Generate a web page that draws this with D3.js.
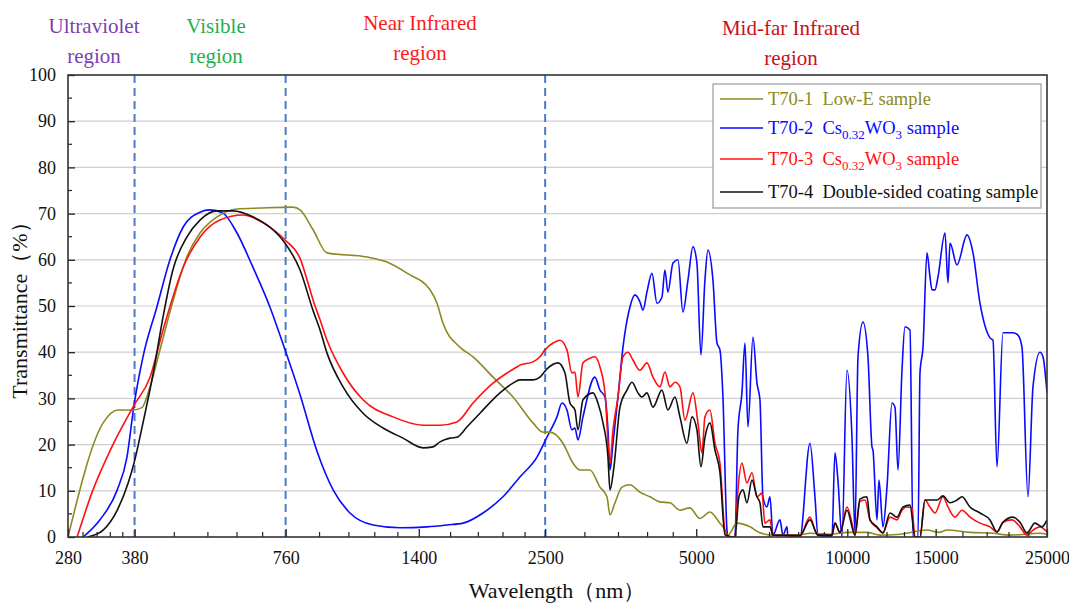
<!DOCTYPE html>
<html>
<head>
<meta charset="utf-8">
<script src="https://cdn.jsdelivr.net/npm/d3@7"></script>
<style>
  body { margin: 0; background: #fff; }
</style>
</head>
<body>
<svg id="chart" width="1069" height="603"></svg>
<script>
// ---- Spectral transmittance data (wavelength in nm, transmittance in %) ----
const lowE_nm = [280,329,352,377,393,408,427,453,483,513,555,608,676,786,812,862,919,1104,1210,1326,1474,1522,1564,1691,1796,1968,2157,2364,2475,2556,2713,2840,2933,3070,3215,3320,3366,3444,3556,3689,3862,4044,4233,4432,4640,4858,5086,5325,5575,5652,5783,6027,6398,6698,7110,8048,8426,9235,10032,10454,10945,11618,12735,14414,15229,15799,17558,19512,21095,24207,25000];
const lowE_T  = [0,24.7,27.5,27.5,28,32.5,40.5,51,60.6,65.8,69.3,71,71.2,71.4,70.8,66.5,61.5,60.6,59.5,57.1,53.5,50.6,46.3,41.1,39,34.6,30.3,24.7,22.7,22.7,20.3,16,14.5,14.5,10.8,8.7,4.8,7.4,10.8,11.3,9.7,8.7,7.6,7.4,5.8,6.3,4,5.4,3,2.2,0.4,3,2.2,0.9,0.4,0.5,0.8,0.6,1,1,1,0.4,0.6,1.5,1,1.5,1,0.8,0.4,0.8,0.6];

const cs2_nm = [300,324,351,367,379,395,421,447,475,513,537,570,608,654,707,758,812,878,945,1021,1135,1284,1454,1593,1715,1880,2060,2227,2408,2521,2639,2701,2763,2827,2866,2906,2974,3141,3215,3290,3335,3366,3413,3492,3573,3689,3775,3862,3916,3988,4081,4176,4272,4331,4391,4494,4598,4704,4814,4926,5016,5109,5204,5276,5399,5499,5575,5652,5757,5783,5972,6055,6167,6253,6340,6487,6607,6698,6791,6916,7013,7110,7342,7444,7581,7617,8048,8426,8621,8741,9320,9449,9580,9759,9985,10217,10359,10503,10746,10995,11199,11251,11459,11564,11779,11997,12276,12446,12619,12852,13030,13333,13518,13832,13959,14153,14414,14614,14748,14953,15161,15655,15872,16019,16541,17318,17802,18382,19245,19512,19872,20429,21388,21884,22288,22911,23443,24207,24543,25000];
const cs2_T  = [0,3.7,10.2,17.3,28.5,39,49.8,60,67.1,70.3,70.8,70.1,65.8,58.4,49.8,40.5,30.8,18.5,10.2,5.2,2.6,2,2.2,2.6,3,5.2,8.7,13,17.3,21.6,26,29,27.5,23.2,23.6,21,26,34.6,31.8,30.3,23.2,14.5,20.3,30.3,41.1,49.8,52.4,50.9,49.1,53,57.1,50.6,51.9,57.8,53,59.3,60,48.7,55.6,62.8,59.3,39.4,55.6,62.1,55.6,42,40.5,30.3,1.5,0,0,23.2,31.2,42,23.8,43.3,33.3,29.7,8.7,6.5,8.7,0.4,3.7,0.4,2.2,0,0,20.3,8.7,0.4,0,18.2,12.3,0,36.1,21.6,0.9,39,46.5,39,19.5,18.8,3.7,12.3,2.2,10.8,29,28.1,14.5,36.1,45.5,44.8,0,0,35.5,41.1,61.5,56.3,53.5,53.5,56.3,65.8,55,63.6,58.9,65.4,61.5,50.6,43.1,42.6,15.2,44.2,44.2,43.7,41.1,8.7,32.5,40,39,31.2];

const cs3_nm = [292,314,340,379,408,433,475,513,562,625,685,758,812,850,862,890,919,989,1084,1244,1428,1543,1668,1796,1968,2098,2196,2227,2364,2441,2498,2592,2676,2763,2827,2866,2906,2974,3070,3141,3215,3290,3366,3413,3492,3573,3656,3740,3862,3988,4100,4233,4331,4432,4535,4640,4748,4926,5040,5133,5204,5325,5449,5575,5704,5837,5972,6055,6167,6310,6457,6607,6760,6853,7013,7110,8048,8426,8621,8741,9320,9449,9670,9985,10217,10359,10599,10845,11097,11459,11779,12164,12561,12852,13150,13456,13642,13959,14283,14614,14953,15513,15872,16391,16926,17558,18382,19245,19872,20429,21289,22085,22805,23443,24207,25000];
const cs3_T  = [0,10.2,18.8,28.5,34.6,44.8,58.4,64.9,68.6,69.7,68,64.3,60.3,53.5,51.3,47,42.6,35.5,29.7,26,24.2,24.2,24.9,29,33.3,35.5,36.8,37.2,37.9,39,40.5,42,42.6,40.5,35.5,35.7,30.3,37.7,38.7,39,36.8,31.2,16,23.2,30.3,39,40,38.3,36.1,37.7,34.6,32.5,35.7,32.5,33.5,32.5,25.3,31.2,24.7,18.2,26,27.5,20.3,16,1.5,0,0,10.2,16,11.7,13.9,8.7,9.5,3,3.7,0.4,0.3,4.3,1.5,0.4,0.4,3,0.9,6.5,3,0.4,7.7,8,3.7,2,0.9,4.3,3.7,5.8,6.5,6.3,0,0,8,6.5,5.2,8.7,6.5,4.3,5.8,4.3,3,2.2,1.1,3.2,3.7,2.2,0.4,1.5,2.2,1.1];

const dbl_nm = [306,329,351,369,379,395,414,433,453,483,513,555,597,654,717,758,812,862,890,919,989,1084,1188,1302,1428,1494,1543,1615,1668,1746,1854,2032,2157,2227,2364,2441,2521,2652,2738,2801,2866,2906,2974,3113,3185,3260,3335,3366,3428,3524,3639,3723,3827,3898,3988,4100,4272,4391,4535,4640,4791,4903,5016,5109,5204,5325,5449,5575,5704,5972,6083,6196,6310,6457,6607,6698,6791,7013,7110,8048,8426,8741,9320,9449,9670,9985,10359,10599,10945,11097,11459,11779,12164,12561,12912,13333,13642,13959,14283,14614,15090,15513,16019,16541,16926,17558,18382,19245,19872,20429,21388,22085,22805,23659,24430,25000];
const dbl_T  = [0,1.5,5.8,11.7,16,24.7,35.5,47.6,57.8,64.9,68.6,70.6,70.6,69.3,66.5,63.6,57.8,49,44.8,39.8,32.5,26.8,23.6,21.4,19.3,19.5,20.6,21.4,21.6,23.8,26.8,31.2,33.3,34,34,34.6,36.4,37.7,35.5,29,27.5,23.2,29.7,31.2,29,24.7,17.3,10.2,15.2,28.1,31.8,33.5,31.2,30.3,31.2,28.1,31.8,27.5,30.3,26,20.3,26,23.2,15.2,21.5,24.7,18.8,14,0.5,0,8.7,10.2,7.4,12.3,8.7,7.4,2.2,2.2,0.4,0.3,3.7,0.4,0.4,3,1,5.8,0.4,8.2,8.7,3.7,2.2,0.9,5.2,4.3,6.5,6.9,0,0,8,8,8,8.9,7.4,8,8.7,6.5,5.2,3.7,1.1,3.2,4.3,3.2,0.9,3,2.2,3.7];

// ---- Axis ticks ----
const xTickValues = [280, 380, 760, 1400, 2500, 5000, 10000, 15000, 25000];
const xMinorTicks = [300,320,340,360, 456,532,608,684, 888,1016,1144,1272, 1620,1840,2060,2280,
                     3000,3500,4000,4500, 6000,7000,8000,9000, 11000,12000,13000,14000, 17000,19000,21000,23000];
const yTickValues = [0, 10, 20, 30, 40, 50, 60, 70, 80, 90, 100];
const yMinorTicks = [5, 15, 25, 35, 45, 55, 65, 75, 85, 95];
const regionBounds = [380, 760, 2500];

// ---- Series and region labels ----
const seriesIds    = ["T70-1", "T70-2", "T70-3", "T70-4"];
const seriesColors = ["#8c8a22", "#0a0aff", "#ff1010", "#111111"];
const regionLines  = [["Ultraviolet", "region"], ["Visible", "region"], ["Near Infrared", "region"], ["Mid-far Infrared", "region"]];
const regionColors = ["#7b3fb0", "#1fb050", "#ff1a1a", "#c8101a"];

const series = [
  { nm: lowE_nm, T: lowE_T },
  { nm: cs2_nm,  T: cs2_T },
  { nm: cs3_nm,  T: cs3_T },
  { nm: dbl_nm,  T: dbl_T }
].map((s, i) => ({ id: seriesIds[i], color: seriesColors[i], pts: s.nm.map((w, k) => [w, s.T[k]]) }));

// ---- Layout ----
const FONT = "Liberation Serif, Tinos, Times New Roman, DejaVu Serif, serif";
const svg = d3.select("#chart");
const L = 68, R = 1047, T = 75, B = 537;

const x = d3.scaleLog().domain([280, 25000]).range([L, R]);
const y = d3.scaleLinear().domain([0, 100]).range([B, T]);

svg.append("defs").append("clipPath").attr("id", "plotClip")
  .append("rect").attr("x", L).attr("y", T).attr("width", R - L).attr("height", B - T);

// horizontal grid
svg.append("g").selectAll("line")
  .data(yTickValues.slice(1, -1))
  .join("line")
  .attr("x1", L).attr("x2", R)
  .attr("y1", d => y(d)).attr("y2", d => y(d))
  .attr("stroke", "#cfcfcf").attr("stroke-width", 1.2);

// region boundaries
svg.append("g").selectAll("line")
  .data(regionBounds)
  .join("line")
  .attr("x1", d => x(d)).attr("x2", d => x(d))
  .attr("y1", T).attr("y2", B)
  .attr("stroke", "#4a7cc9").attr("stroke-width", 2)
  .attr("stroke-dasharray", "8,5");

// curves
const line = d3.line()
  .x(d => x(d[0]))
  .y(d => y(d[1]))
  .curve(d3.curveMonotoneX);

const curves = svg.append("g").attr("clip-path", "url(#plotClip)");
[1, 0, 2, 3].forEach(i => {
  curves.append("path")
    .datum(series[i].pts)
    .attr("d", line)
    .attr("fill", "none")
    .attr("stroke", series[i].color)
    .attr("stroke-width", 1.6)
    .attr("stroke-linejoin", "round");
});

// axes: ticks point inward
const xAxis = d3.axisBottom(x)
  .tickValues(xTickValues)
  .tickFormat(d3.format("d"))
  .tickSizeInner(-8).tickSizeOuter(0).tickPadding(14);
const gx = svg.append("g").attr("transform", `translate(0,${B})`).call(xAxis)
  .attr("font-family", FONT).attr("font-size", 18);
gx.select(".domain").remove();
gx.selectAll(".tick line").attr("stroke", "#222").attr("stroke-width", 1.3);
gx.selectAll(".tick text").attr("fill", "#111");

svg.append("g").selectAll("line")
  .data(xMinorTicks)
  .join("line")
  .attr("x1", d => x(d)).attr("x2", d => x(d))
  .attr("y1", B).attr("y2", B - 5)
  .attr("stroke", "#222").attr("stroke-width", 1.2);

const yAxis = d3.axisLeft(y)
  .tickValues(yTickValues)
  .tickFormat(d3.format("d"))
  .tickSizeInner(-7).tickSizeOuter(0).tickPadding(12);
const gy = svg.append("g").attr("transform", `translate(${L},0)`).call(yAxis)
  .attr("font-family", FONT).attr("font-size", 18);
gy.select(".domain").remove();
gy.selectAll(".tick line").attr("stroke", "#222").attr("stroke-width", 1.3);
gy.selectAll(".tick text").attr("fill", "#111");

svg.append("g").selectAll("line")
  .data(yMinorTicks)
  .join("line")
  .attr("x1", L).attr("x2", L + 4)
  .attr("y1", d => y(d)).attr("y2", d => y(d))
  .attr("stroke", "#222").attr("stroke-width", 1.2);

// frame
svg.append("rect")
  .attr("x", L).attr("y", T).attr("width", R - L).attr("height", B - T)
  .attr("fill", "none").attr("stroke", "#333").attr("stroke-width", 1.6);

// axis titles
svg.append("text")
  .attr("x", 557).attr("y", 598)
  .attr("font-family", FONT)
  .attr("text-anchor", "middle").attr("font-size", 22).attr("fill", "#111")
  .text("Wavelength（nm）");
svg.append("text")
  .attr("transform", "translate(27,305) rotate(-90)")
  .attr("font-family", FONT)
  .attr("text-anchor", "middle").attr("font-size", 22).attr("fill", "#111")
  .text("Transmittance（%）");

// region captions above the plot
const regionX = [94, 216, 420, 791];
const regionY = [33, 33, 30, 35];
regionLines.forEach((lines, i) => {
  const t = svg.append("text")
    .attr("font-family", FONT)
    .attr("text-anchor", "middle").attr("font-size", 21).attr("fill", regionColors[i]);
  lines.forEach((s, k) => {
    t.append("tspan").attr("x", regionX[i]).attr("y", regionY[i] + k * 30).text(s);
  });
});

// legend
const lg = svg.append("g").attr("font-family", FONT);
lg.append("rect")
  .attr("x", 713).attr("y", 84).attr("width", 328).attr("height", 124)
  .attr("fill", "#fff").attr("stroke", "#9a9a9a").attr("stroke-width", 1.2);

const legendRows = [
  [{ t: "T70-1  Low-E sample" }],
  [{ t: "T70-2  Cs" }, { t: "0.32", sub: true }, { t: "WO" }, { t: "3", sub: true }, { t: " sample" }],
  [{ t: "T70-3  Cs" }, { t: "0.32", sub: true }, { t: "WO" }, { t: "3", sub: true }, { t: " sample" }],
  [{ t: "T70-4  Double-sided coating sample" }]
];
const rowY = [99, 128, 159, 192];
legendRows.forEach((parts, i) => {
  lg.append("line")
    .attr("x1", 720).attr("x2", 763)
    .attr("y1", rowY[i]).attr("y2", rowY[i])
    .attr("stroke", seriesColors[i]).attr("stroke-width", 1.6);
  const t = lg.append("text")
    .attr("x", 768).attr("y", rowY[i] + 6)
    .attr("font-size", 18.5).attr("fill", seriesColors[i])
    .attr("xml:space", "preserve");
  parts.forEach(p => {
    const ts = t.append("tspan").text(p.t);
    if (p.sub) ts.attr("font-size", 13).attr("dy", 5);
    else if (t.selectAll("tspan").size() > 1) ts.attr("dy", -5);
  });
});
</script>
</body>
</html>
